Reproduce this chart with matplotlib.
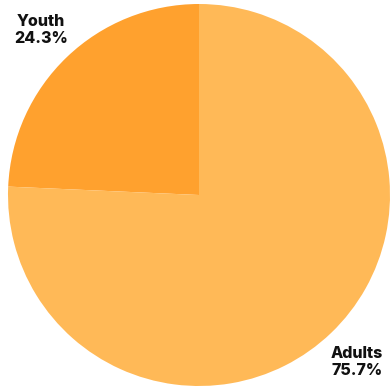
import matplotlib
matplotlib.use("Agg")
import matplotlib.pyplot as plt

categories = ["Youth", "Adults"]
values = [24.3, 75.7]
colors = ["#FFA12E", "#FFB957"]

W, H = 391, 389
fig = plt.figure(figsize=(W / 100, H / 100), dpi=100)
cx, cy, r = 199, 195, 191
ax = fig.add_axes([(cx - r) / W, (H - cy - r) / H, 2 * r / W, 2 * r / H])
ax.pie(values, colors=colors, startangle=90, counterclock=True,
       wedgeprops=dict(linewidth=0))
ax.set_xlim(-1, 1)
ax.set_ylim(-1, 1)
ax.set_aspect("equal")
ax.axis("off")

def px(x, y):
    return (x - cx) / r, (cy - y) / r

label_pos = [(41, 30), (357, 362)]
for cat, val, (x, y) in zip(categories, values, label_pos):
    dx, dy = px(x, y)
    ax.text(dx, dy, f"{cat}\n{val:.1f}%", ha="center", va="center",
            fontsize=11.5, fontweight="heavy", family=["Inter", "DejaVu Sans"],
            color="#111111", linespacing=1.2, clip_on=False)

fig.savefig("out.png", dpi=100)
